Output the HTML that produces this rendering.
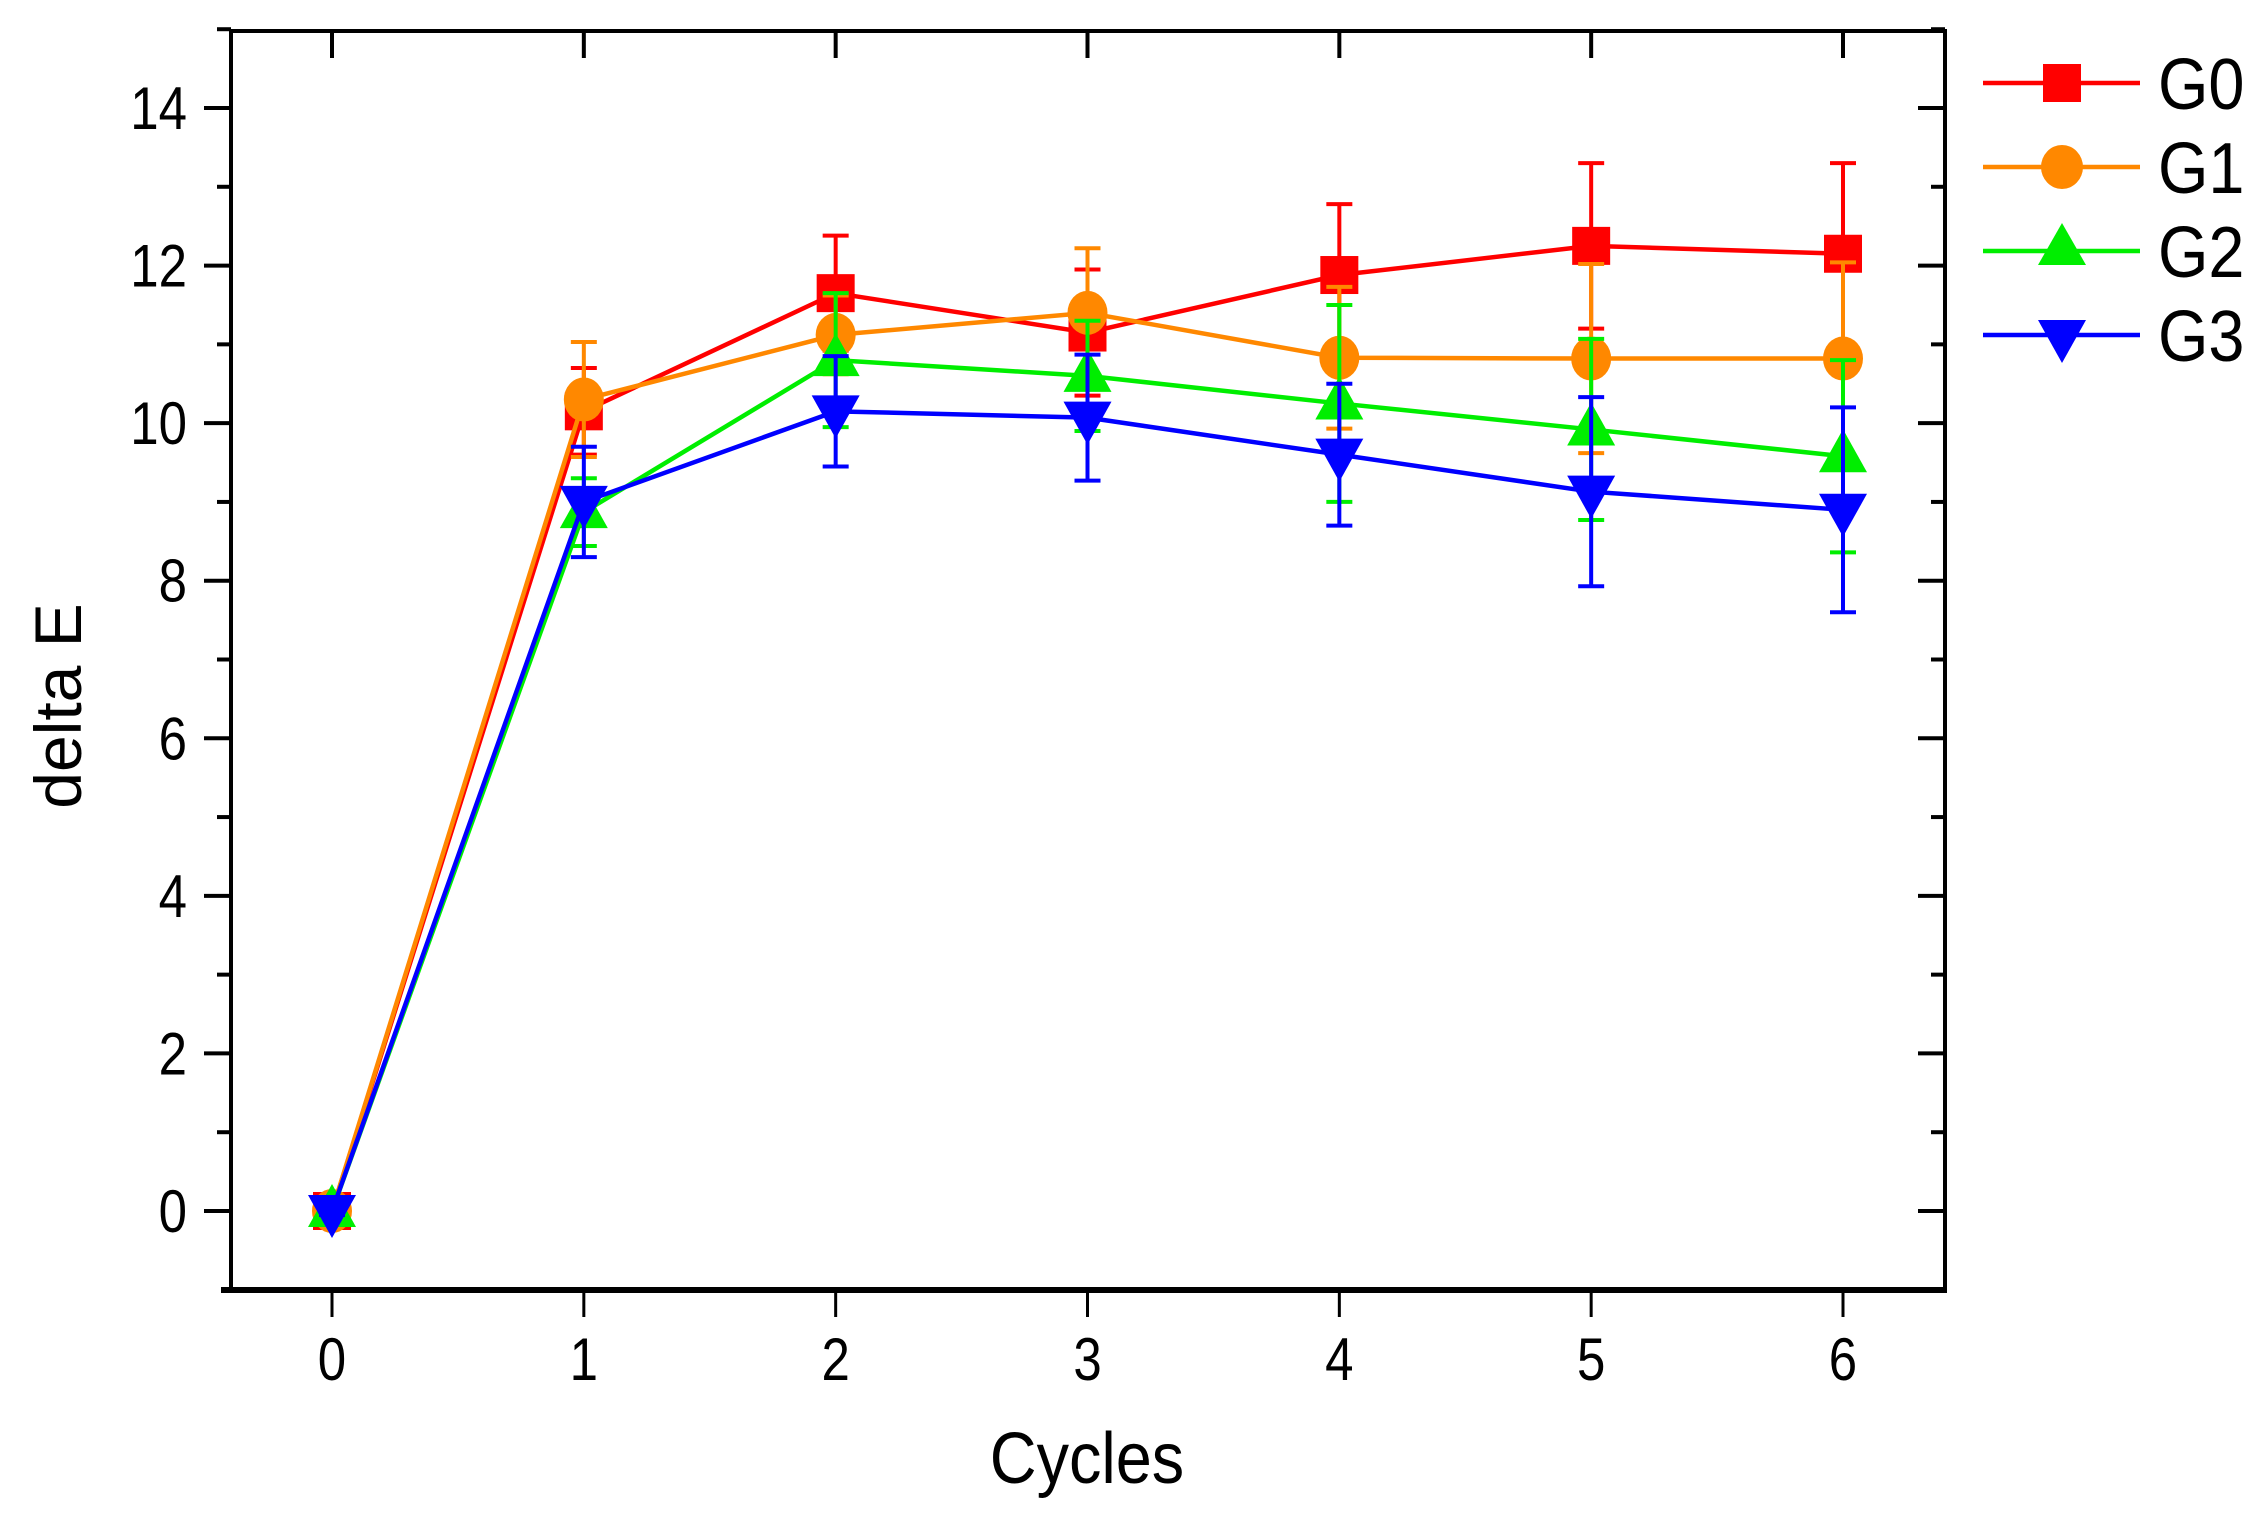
<!DOCTYPE html>
<html><head><meta charset="utf-8"><style>
html,body{margin:0;padding:0;background:#fff;}
svg{display:block;font-family:"Liberation Sans",Arial,sans-serif;}
</style></head><body>
<svg id="chart" width="2266" height="1528" viewBox="0 0 2266 1528" xmlns="http://www.w3.org/2000/svg"></svg>
<script>
const cycles = [0,1,2,3,4,5,6];
const g0 = [0,10.15,11.65,11.15,11.88,12.25,12.15];
const g0err = [0.1,0.55,0.73,0.8,0.9,1.05,1.15];
const g1 = [0,10.3,11.12,11.4,10.83,10.82,10.82];
const g1err = [0.1,0.73,0.5,0.82,0.9,1.2,1.22];
const g2 = [0,8.87,10.8,10.6,10.25,9.92,9.58];
const g2err = [0.05,0.43,0.85,0.7,1.25,1.15,1.22];
const g3 = [0,9.0,10.15,10.07,9.6,9.13,8.9];
const g3err = [0.05,0.7,0.7,0.8,0.9,1.2,1.3];
const yTicks = [0,2,4,6,8,10,12,14];
const xTicks = [0,1,2,3,4,5,6];
const seriesNames = ["G0","G1","G2","G3"];

const L=231,R=1945,T=31,B=1290;
function sx(v){return 332+(v-0)*(1843-332)/6;}
function sy(v){return 1211+(v-0)*(108-1211)/14;}
const NS="http://www.w3.org/2000/svg";
const svg=document.getElementById('chart');
function el(tag,attrs,parent){const e=document.createElementNS(NS,tag);for(const k in attrs)e.setAttribute(k,attrs[k]);(parent||svg).appendChild(e);return e;}

const colors=["#ff0000","#ff8800","#00ee00","#0000ff"];
const vals=[g0,g1,g2,g3];
const errs=[g0err,g1err,g2err,g3err];
const shapes=["square","circle","up","down"];
function marker(shape,x,y,c,g){
  if(shape==="square"){return el('rect',{x:x-19,y:y-19,width:38,height:38,fill:c},g);}
  if(shape==="circle"){return el('ellipse',{cx:x,cy:y,rx:20,ry:22,fill:c},g);}
  if(shape==="up"){return el('polygon',{points:`${x},${y-27} ${x+24},${y+16} ${x-24},${y+16}`,fill:c},g);}
  return el('polygon',{points:`${x},${y+27} ${x+24},${y-16} ${x-24},${y-16}`,fill:c},g);
}
for(let s=0;s<4;s++){
  const g=el('g',{});
  
  
  const pts=cycles.map((c,i)=>sx(c)+','+sy(vals[s][i])).join(' ');
  const line=el('polyline',{points:pts,fill:'none',stroke:colors[s],'stroke-width':4.5},g);
  
  
  for(let i=0;i<cycles.length;i++){
    const x=sx(cycles[i]),y1=sy(vals[s][i]+errs[s][i]),y2=sy(vals[s][i]-errs[s][i]);
    const eb=el('path',{d:`M${x},${y1}V${y2}M${x-13},${y1}H${x+13}M${x-13},${y2}H${x+13}`,stroke:colors[s],'stroke-width':4,fill:'none'},g);
    
    
  }
  for(let i=0;i<cycles.length;i++){
    const m=marker(shapes[s],sx(cycles[i]),sy(vals[s][i]),colors[s],g);
    
    
  }
}

const ax=el('g',{});


el('rect',{x:L,y:T,width:R-L,height:B-T,fill:'none',stroke:'#000','stroke-width':4},ax);
el('line',{x1:L-10,y1:B,x2:R+2,y2:B,stroke:'#000','stroke-width':6},ax);
for(let v=0;v<=15;v++){
  const y=sy(v);const major=v%2===0;
  const len=major?27:14;
  el('line',{x1:L-len,y1:y,x2:L,y2:y,stroke:'#000','stroke-width':4},ax);
  el('line',{x1:R,y1:y,x2:R-len,y2:y,stroke:'#000','stroke-width':4},ax);
}
yTicks.forEach(v=>{
  const t=el('text',{x:187,y:sy(v)+21,'font-size':60,'text-anchor':'end',fill:'#000',transform:`translate(187,0) scale(0.85,1) translate(-187,0)`},ax);
  t.textContent=v;
  
  
});
xTicks.forEach(v=>{
  const x=sx(v);
  el('line',{x1:x,y1:B,x2:x,y2:B+27,stroke:'#000','stroke-width':3},ax);
  el('line',{x1:x,y1:T,x2:x,y2:T+27,stroke:'#000','stroke-width':4},ax);
  const t=el('text',{x:x,y:1380,'font-size':60,'text-anchor':'middle',fill:'#000',transform:`translate(${x},0) scale(0.85,1) translate(${-x},0)`},ax);
  t.textContent=v;
  
  
});
</script>
<svg style="position:absolute;left:0;top:0" width="2266" height="1528">
<text x="1087" y="1483" font-size="72" text-anchor="middle" font-family="Liberation Sans, sans-serif" transform="translate(1087,0) scale(0.9,1) translate(-1087,0)">Cycles</text>
<text x="0" y="0" font-size="66" text-anchor="middle" font-family="Liberation Sans, sans-serif" transform="translate(81,706) rotate(-90)">delta E</text>
<g font-family="Liberation Sans, sans-serif" font-size="72">
 <g>
  <line x1="1983" y1="83" x2="2140" y2="83" stroke="#ff0000" stroke-width="4.5"/>
  <rect x="2043" y="64" width="38" height="38" fill="#ff0000"/>
  <text x="2158" y="109" transform="translate(2158,0) scale(0.9,1) translate(-2158,0)">G0</text>
 </g>
 <g>
  <line x1="1983" y1="167" x2="2140" y2="167" stroke="#ff8800" stroke-width="4.5"/>
  <ellipse cx="2062" cy="167" rx="21" ry="22" fill="#ff8800"/>
  <text x="2158" y="193" transform="translate(2158,0) scale(0.9,1) translate(-2158,0)">G1</text>
 </g>
 <g>
  <line x1="1983" y1="251" x2="2140" y2="251" stroke="#00ee00" stroke-width="4.5"/>
  <polygon points="2062,223 2086,265 2038,265" fill="#00ee00"/>
  <text x="2158" y="277" transform="translate(2158,0) scale(0.9,1) translate(-2158,0)">G2</text>
 </g>
 <g>
  <line x1="1983" y1="335" x2="2140" y2="335" stroke="#0000ff" stroke-width="4.5"/>
  <polygon points="2062,363 2086,320 2038,320" fill="#0000ff"/>
  <text x="2158" y="361" transform="translate(2158,0) scale(0.9,1) translate(-2158,0)">G3</text>
 </g>
</g>
</svg>
</body></html>
